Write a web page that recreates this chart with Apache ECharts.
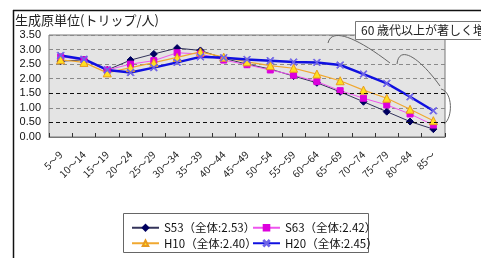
<!DOCTYPE html>
<html lang="ja">
<head>
<meta charset="UTF-8">
<title>生成原単位</title>
<script src="https://cdn.jsdelivr.net/npm/echarts@6/dist/echarts.min.js"></script>
<style>
  html, body { margin: 0; padding: 0; background: #fff; }
  #main { width: 481px; height: 258px; }
</style>
</head>
<body>
<div id="main"></div>
<script type="text/javascript">
    // 年齢階層
    var ageGroups = ['5～9', '10～14', '15～19', '20～24', '25～29', '30～34', '35～39', '40～44', '45～49',
        '50～54', '55～59', '60～64', '65～69', '70～74', '75～79', '80～84', '85～'];
    // 凡例名
    var seriesNames = ['S53（全体:2.53）', 'S63（全体:2.42）', 'H10（全体:2.40）', 'H20（全体:2.45）'];
    // 生成原単位（トリップ/人）
    var s53 = [2.60, 2.65, 2.30, 2.64, 2.85, 3.05, 2.97, 2.70, 2.50, 2.33, 2.09, 1.86, 1.55, 1.21, 0.87, 0.53, 0.27];
    var s63 = [2.75, 2.65, 2.30, 2.50, 2.62, 2.89, 2.85, 2.64, 2.48, 2.30, 2.12, 1.90, 1.59, 1.33, 1.10, 0.79, 0.41];
    var h10 = [2.65, 2.56, 2.20, 2.38, 2.55, 2.73, 2.92, 2.74, 2.58, 2.45, 2.36, 2.16, 1.93, 1.61, 1.33, 0.95, 0.56];
    var h20 = [2.80, 2.67, 2.30, 2.21, 2.38, 2.56, 2.75, 2.72, 2.66, 2.62, 2.57, 2.56, 2.47, 2.16, 1.84, 1.38, 0.90];
    var yTicks = [0, 3.5, 0.5];

    var jpFont = '"Noto Sans CJK JP", "Noto Sans", sans-serif';
    var xMark = 'path://M0,1L1,0L5,4L9,0L10,1L6,5L10,9L9,10L5,6L1,10L0,9L4,5Z';

    function makeSeries(name, data, lineColor, width, symbol, size, fill, border) {
        return {
            name: name,
            type: 'line',
            data: data,
            symbol: symbol,
            symbolSize: size,
            showAllSymbol: true,
            lineStyle: {color: lineColor, width: width},
            itemStyle: {color: fill, borderColor: border, borderWidth: 1},
            emphasis: {disabled: true},
            z: 3
        };
    }

    var series = [
        makeSeries(seriesNames[0], s53, '#33335a', 1, 'diamond', 7, '#000060', '#000060'),
        makeSeries(seriesNames[1], s63, '#ee55ee', 1, 'rect', 6, '#dd00dd', '#dd00dd'),
        makeSeries(seriesNames[2], h10, '#f0a830', 1.2, 'triangle', 8, '#ffe020', '#e89a20'),
        makeSeries(seriesNames[3], h20, '#1010e0', 2.5, xMark, 7, '#6f64e8', '#6f64e8')
    ];
    // 0.5 と 1.5 の補助線は黒の破線
    series[0].markLine = {
        silent: true,
        symbol: 'none',
        label: {show: false},
        lineStyle: {color: '#111', type: [4, 3], width: 1},
        data: [{yAxis: 0.5}, {yAxis: 1.5}]
    };

    var option = {
        animation: false,
        textStyle: {fontFamily: jpFont},
        grid: {
            left: 49, right: 36, top: 35, bottom: 121,
            show: true,
            backgroundColor: '#e4e4e4',
            borderColor: '#777',
            borderWidth: 1
        },
        legend: [
            {
                data: [seriesNames[0], seriesNames[2]],
                orient: 'vertical',
                left: 131, top: 222,
                itemWidth: 27, itemHeight: 7, itemGap: 4,
                padding: 0,
                textStyle: {fontSize: 11.5, color: '#111', fontFamily: jpFont}
            },
            {
                data: [seriesNames[1], seriesNames[3]],
                orient: 'vertical',
                left: 252, top: 222,
                itemWidth: 27, itemHeight: 7, itemGap: 4,
                padding: 0,
                textStyle: {fontSize: 11.5, color: '#111', fontFamily: jpFont}
            }
        ],
        xAxis: {
            type: 'category',
            data: ageGroups,
            boundaryGap: true,
            axisLine: {show: true, lineStyle: {color: '#777'}},
            axisTick: {show: true, inside: true, length: 4, lineStyle: {color: '#333'}},
            axisLabel: {rotate: 45, fontSize: 10, color: '#222', margin: 16, interval: 0, fontFamily: jpFont}
        },
        yAxis: {
            type: 'value',
            min: yTicks[0], max: yTicks[1], interval: yTicks[2],
            axisLine: {show: false},
            axisTick: {show: false},
            axisLabel: {
                fontSize: 11, color: '#111', margin: 8,
                fontFamily: 'Arial, "Liberation Sans", sans-serif',
                formatter: function (v) { return v.toFixed(2); }
            },
            splitLine: {show: true, lineStyle: {color: '#8a8a8a', type: [4, 3], width: 1}}
        },
        graphic: [
            // 外枠
            {type: 'line', shape: {x1: 13, y1: 10.5, x2: 481, y2: 10.5}, style: {stroke: '#111', lineWidth: 1.5}, z: 10},
            {type: 'line', shape: {x1: 13.5, y1: 10, x2: 13.5, y2: 258}, style: {stroke: '#111', lineWidth: 1.5}, z: 10},
            {
                type: 'text', left: 15, top: 14,
                style: {text: '生成原単位(トリップ/人)', font: '13px ' + jpFont, fill: '#222'}
            },
            // 凡例の枠
            {type: 'rect', shape: {x: 123.5, y: 213.5, width: 245, height: 39}, style: {fill: 'none', stroke: '#666', lineWidth: 1}, z: 0},
            // 中括弧
            {type: 'bezierCurve', shape: {x1: 328, y1: 43, cpx1: 331, cpy1: 29, cpx2: 352, cpy2: 34, x2: 390, y2: 63}, style: {stroke: '#666', lineWidth: 1, fill: 'none'}, z: 10},
            {type: 'bezierCurve', shape: {x1: 397, y1: 64, cpx1: 399, cpy1: 44, cpx2: 420, cpy2: 58, x2: 440, y2: 86}, style: {stroke: '#666', lineWidth: 1, fill: 'none'}, z: 10},
            {type: 'bezierCurve', shape: {x1: 441, y1: 89, cpx1: 453, cpy1: 92, cpx2: 453, cpy2: 118, x2: 444, y2: 124}, style: {stroke: '#666', lineWidth: 1, fill: 'none'}, z: 10},
            // 吹き出し
            {type: 'rect', shape: {x: 355.5, y: 21.5, width: 140, height: 18}, style: {fill: '#fff', stroke: '#777', lineWidth: 1}, z: 11},
            {
                type: 'text', left: 361, top: 24, z: 12,
                style: {text: '60 歳代以上が著しく増加', font: '12px ' + jpFont, fill: '#222'}
            }
        ],
        series: series
    };

    var myChart = echarts.init(document.getElementById('main'), null, {renderer: 'canvas'});
    myChart.setOption(option);
</script>
</body>
</html>
